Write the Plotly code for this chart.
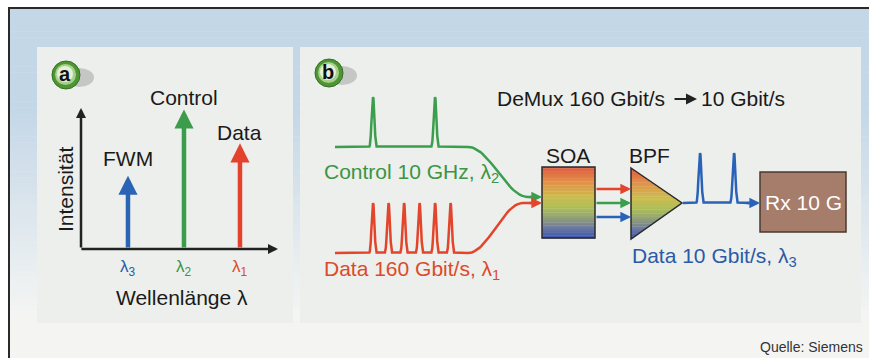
import numpy as np
import plotly.graph_objects as go

# ---------------- data ----------------
# Panel a: spectral lines
line_names = ["FWM", "Control", "Data"]
wavelength_pos = [1, 2, 3]            # position on wavelength axis
wavelength_sub = ["3", "2", "1"]      # λ subscripts
intensities = [0.52, 0.99, 0.75]      # relative intensity
line_colors = ["#2b63b5", "#3b9d4b", "#e3432c"]
label_colors = ["#2a5aa8", "#3d9444", "#dc4a2a"]

# Panel b: pulse trains (time slots of 160 Gbit/s frame)
control_slots = [0, 4]
data_slots = [0, 1, 2, 3, 4, 5]
output_slots = [0, 4]
control_label = "Control 10 GHz, λ<sub>2</sub>"
data_label = "Data 160 Gbit/s, λ<sub>1</sub>"
output_label = "Data 10 Gbit/s, λ<sub>3</sub>"

FONT = "Liberation Sans, Arial, Helvetica, sans-serif"
W, H = 869, 358

fig = go.Figure()
shapes = []
annotations = []


def rgb(c):
    return "rgb(%d,%d,%d)" % tuple(int(round(v)) for v in c)


def lerp(a, b, t):
    return tuple(a[i] + (b[i] - a[i]) * t for i in range(3))


# ---------------- background ----------------
c_top = (196, 215, 231)
c_bot = (244, 245, 243)
N = 60
for i in range(N):
    y0 = 8 + i * (H - 8) / N
    y1 = 8 + (i + 1) * (H - 8) / N
    ym = (y0 + y1) / 2
    if ym < 110:
        t = 0
    elif ym > 315:
        t = 1
    else:
        t = (ym - 110) / (315 - 110)
    shapes.append(dict(type="rect", xref="x", yref="y", x0=8, x1=W, y0=y0, y1=y1 + 0.5,
                       fillcolor=rgb(lerp(c_top, c_bot, t)), line=dict(width=0), layer="below"))

# frame lines
shapes.append(dict(type="line", xref="x", yref="y", x0=8, x1=W, y0=8, y1=8,
                   line=dict(color="#2a2a2a", width=2), layer="below"))
shapes.append(dict(type="line", xref="x", yref="y", x0=9, x1=9, y0=8, y1=H,
                   line=dict(color="#2a2a2a", width=2), layer="below"))

# panels
panel_fill = "rgb(236,239,235)"
for (x0, x1) in [(37, 293), (300, 861)]:
    shapes.append(dict(type="rect", xref="x", yref="y", x0=x0, x1=x1, y0=47, y1=323,
                       fillcolor=panel_fill, line=dict(width=0), layer="below"))


# ---------------- badges ----------------
def badge(cx, cy, letter):
    shapes.append(dict(type="circle", xref="x", yref="y", x0=cx - 2, x1=cx + 28, y0=cy - 7, y1=cy + 12,
                       fillcolor="rgba(150,150,150,0.45)", line=dict(width=0)))
    shapes.append(dict(type="circle", xref="x", yref="y", x0=cx - 14, x1=cx + 14, y0=cy - 14, y1=cy + 14,
                       fillcolor="#4e9534", line=dict(color="#356f22", width=1)))
    shapes.append(dict(type="circle", xref="x", yref="y", x0=cx - 11, x1=cx + 10, y0=cy - 11, y1=cy + 10,
                       fillcolor="#a8d08a", line=dict(width=0)))
    shapes.append(dict(type="circle", xref="x", yref="y", x0=cx - 9, x1=cx + 7, y0=cy - 9, y1=cy + 7,
                       fillcolor="#e4f0d8", line=dict(width=0)))
    annotations.append(dict(xref="x", yref="y", x=cx - 1, y=cy - 1, text="<b>%s</b>" % letter,
                            showarrow=False, font=dict(family=FONT, size=20, color="#111"),
                            xanchor="center", yanchor="middle"))


badge(66, 75, "a")
badge(329, 73, "b")

# ---------------- panel a (own axes) ----------------
ax_x_px0, ax_x_px1 = 81, 278
ax_y_px0, ax_y_px1 = 249, 108
x2_range = [0.161, 3.679]
y2_range = [0, 1.0]

fig.add_trace(go.Scatter(x=wavelength_pos, y=intensities, xaxis="x2", yaxis="y2",
                         mode="markers", marker=dict(opacity=0), hoverinfo="skip", showlegend=False))

# axis arrows
annotations.append(dict(xref="x2", yref="y2", axref="x2", ayref="y2",
                        x=x2_range[0], y=y2_range[1], ax=x2_range[0], ay=0, text="",
                        showarrow=True, arrowhead=2, arrowsize=0.8, arrowwidth=2.5, arrowcolor="#222"))
annotations.append(dict(xref="x2", yref="y2", axref="x2", ayref="y2",
                        x=x2_range[1], y=0, ax=x2_range[0] - 0.02, ay=0, text="",
                        showarrow=True, arrowhead=2, arrowsize=0.8, arrowwidth=2.5, arrowcolor="#222"))

label_shift = [4, -2, -3]
for name, xp, sub, inten, lc, tc, sh in zip(line_names, wavelength_pos, wavelength_sub,
                                              intensities, line_colors, label_colors, label_shift):
    annotations.append(dict(xref="x2", yref="y2", axref="x2", ayref="y2",
                            x=xp, y=inten, ax=xp, ay=0, text="",
                            showarrow=True, arrowhead=2, arrowsize=0.85, arrowwidth=4.5, arrowcolor=lc))
    annotations.append(dict(xref="x2", yref="y2", x=xp, y=inten, yshift=sh, text=name,
                            showarrow=False, xanchor="center", yanchor="bottom",
                            font=dict(family=FONT, size=21, color="#1a1a1a")))
    annotations.append(dict(xref="x2", yref="y2", x=xp, y=0, yshift=-19, text="λ<sub>%s</sub>" % sub,
                            showarrow=False, xanchor="center", yanchor="middle",
                            font=dict(family=FONT, size=17, color=tc)))

annotations.append(dict(xref="x", yref="y", x=182, y=297, text="Wellenlänge λ", showarrow=False,
                        xanchor="center", yanchor="middle", font=dict(family=FONT, size=21, color="#1a1a1a")))
annotations.append(dict(xref="x", yref="y", x=65, y=190, text="Intensität", showarrow=False, textangle=-90,
                        xanchor="center", yanchor="middle", font=dict(family=FONT, size=21, color="#1a1a1a")))


# ---------------- panel b ----------------
def pulse_train(x_start, x_end, base_y, x_first, spacing, slots, height):
    centers = [x_first + s * spacing for s in slots]
    xs = [x_start]
    ys = [base_y]
    dxs = np.linspace(-3.6, 3.6, 17)
    for c in centers:
        for dx in dxs:
            xs.append(c + dx)
            ys.append(base_y - height * np.exp(-(abs(dx) / 1.9) ** 2.4))
    xs.append(x_end)
    ys.append(base_y)
    return xs, ys


def s_curve(x0, x1, y0, y1, n=30):
    t = np.linspace(0, 1, n)
    s = (1 - np.cos(np.pi * t)) / 2
    return list(x0 + (x1 - x0) * t), list(y0 + (y1 - y0) * s)


green = "#3a9e4c"
red = "#e2442c"
blue = "#2a62b8"

# control (green)
gx, gy = pulse_train(335, 468, 147, 373, 15.5, control_slots, 50)
cx, cy = s_curve(468, 528, 147, 197)
fig.add_trace(go.Scatter(x=gx + cx + [532], y=gy + cy + [197], mode="lines",
                         line=dict(color=green, width=2.5), hoverinfo="skip", showlegend=False))
# data (red)
rx, ry = pulse_train(335, 468, 253, 373, 15.5, data_slots, 50)
sx, sy = s_curve(468, 523, 253, 203)
fig.add_trace(go.Scatter(x=rx + sx + [532], y=ry + sy + [203], mode="lines",
                         line=dict(color=red, width=2.5), hoverinfo="skip", showlegend=False))
# output (blue)
bx, by = pulse_train(683, 750, 203, 700, 8.5, output_slots, 50)
fig.add_trace(go.Scatter(x=bx, y=by, mode="lines",
                         line=dict(color=blue, width=2.5), hoverinfo="skip", showlegend=False))


def arrow(x0, x1, y, color, width=2.5, size=0.85):
    annotations.append(dict(xref="x", yref="y", axref="x", ayref="y", x=x1, y=y, ax=x0, ay=y, text="",
                            showarrow=True, arrowhead=2, arrowsize=size, arrowwidth=width, arrowcolor=color))


arrow(528, 542, 197, green)
arrow(528, 542, 203, red)
arrow(595, 631, 189, red)
arrow(595, 631, 203, green)
arrow(595, 631, 217, blue)
arrow(745, 760, 203, blue)

# gradient colours (top -> bottom)
grad_stops = [(0.0, (222, 88, 64)), (0.2, (226, 142, 72)), (0.42, (205, 188, 78)),
              (0.58, (172, 190, 88)), (0.72, (145, 160, 118)), (0.86, (108, 120, 160)),
              (1.0, (56, 86, 176))]


def grad(t):
    for (t0, c0), (t1, c1) in zip(grad_stops[:-1], grad_stops[1:]):
        if t <= t1:
            return lerp(c0, c1, (t - t0) / (t1 - t0))
    return grad_stops[-1][1]


# SOA box
sx0, sx1, sy0, sy1 = 542, 595, 167, 238
NB = 50
for i in range(NB):
    y0 = sy0 + i * (sy1 - sy0) / NB
    y1 = sy0 + (i + 1) * (sy1 - sy0) / NB
    shapes.append(dict(type="rect", xref="x", yref="y", x0=sx0, x1=sx1, y0=y0, y1=y1 + 0.4,
                       fillcolor=rgb(grad((i + 0.5) / NB)), line=dict(width=0)))
shapes.append(dict(type="rect", xref="x", yref="y", x0=sx0, x1=sx1, y0=sy0, y1=sy1,
                   line=dict(color="#2a2a2a", width=1.5)))

# BPF triangle
tx0, ty0, ty1, apx, apy = 631, 168, 239, 682, 203


def tri_right(y):
    if y <= apy:
        return tx0 + (apx - tx0) * (y - ty0) / (apy - ty0)
    return apx - (apx - tx0) * (y - apy) / (ty1 - apy)


for i in range(NB):
    y0 = ty0 + i * (ty1 - ty0) / NB
    y1 = ty0 + (i + 1) * (ty1 - ty0) / NB + 0.4
    y1 = min(y1, ty1)
    pts = [(tx0, y0), (tri_right(y0), y0)]
    if y0 < apy < y1:
        pts.append((apx, apy))
    pts += [(tri_right(y1), y1), (tx0, y1)]
    path = "M " + " L ".join("%.2f,%.2f" % p for p in pts) + " Z"
    shapes.append(dict(type="path", xref="x", yref="y", path=path,
                       fillcolor=rgb(grad((i + 0.5) / NB)), line=dict(width=0)))
shapes.append(dict(type="path", xref="x", yref="y",
                   path="M %d,%d L %d,%d L %d,%d Z" % (tx0, ty0, apx, apy, tx0, ty1),
                   line=dict(color="#2a2a2a", width=1.5)))

# Rx box
shapes.append(dict(type="rect", xref="x", yref="y", x0=760, x1=846, y0=172, y1=232,
                   fillcolor="#a67c6a", line=dict(color="#4a3a32", width=1.5)))
annotations.append(dict(xref="x", yref="y", x=803, y=202, text="Rx 10 G", showarrow=False,
                        xanchor="center", yanchor="middle", font=dict(family=FONT, size=21, color="white")))

# text labels panel b
txt = dict(family=FONT, size=21, color="#1a1a1a")
annotations.append(dict(xref="x", yref="y", x=568, y=155, text="SOA", showarrow=False,
                        xanchor="center", yanchor="middle", font=txt))
annotations.append(dict(xref="x", yref="y", x=649, y=155, text="BPF", showarrow=False,
                        xanchor="center", yanchor="middle", font=txt))
annotations.append(dict(xref="x", yref="y", x=667, y=98, text="DeMux 160 Gbit/s", showarrow=False,
                        xanchor="right", yanchor="middle", font=txt))
annotations.append(dict(xref="x", yref="y", x=699, y=98, text="10 Gbit/s", showarrow=False,
                        xanchor="left", yanchor="middle", font=txt))
annotations.append(dict(xref="x", yref="y", axref="x", ayref="y", x=697, y=99, ax=673, ay=99, text="",
                        showarrow=True, arrowhead=2, arrowsize=1.0, arrowwidth=2.2, arrowcolor="#222"))

annotations.append(dict(xref="x", yref="y", x=322, y=173, text=control_label, showarrow=False,
                        xanchor="left", yanchor="middle", font=dict(family=FONT, size=21, color="#3d9444")))
annotations.append(dict(xref="x", yref="y", x=322, y=270, text=data_label, showarrow=False,
                        xanchor="left", yanchor="middle", font=dict(family=FONT, size=21, color="#dc4a2a")))
annotations.append(dict(xref="x", yref="y", x=630, y=257, text=output_label, showarrow=False,
                        xanchor="left", yanchor="middle", font=dict(family=FONT, size=21, color="#2a5aa8")))

annotations.append(dict(xref="x", yref="y", x=865, y=347, text="Quelle: Siemens", showarrow=False,
                        xanchor="right", yanchor="middle", font=dict(family=FONT, size=14, color="#333")))

# ---------------- layout ----------------
fig.update_layout(
    width=W, height=H,
    margin=dict(l=0, r=0, t=0, b=0),
    paper_bgcolor="white",
    plot_bgcolor="rgba(0,0,0,0)",
    showlegend=False,
    shapes=shapes,
    annotations=annotations,
    xaxis=dict(range=[0, W], domain=[0, 1], visible=False, fixedrange=True),
    yaxis=dict(range=[H, 0], domain=[0, 1], visible=False, fixedrange=True),
    xaxis2=dict(range=x2_range, domain=[ax_x_px0 / W, ax_x_px1 / W], anchor="y2",
                visible=False, fixedrange=True),
    yaxis2=dict(range=y2_range, domain=[(H - ax_y_px0) / H, (H - ax_y_px1) / H], anchor="x2",
                visible=False, fixedrange=True),
)

fig.write_html(
    "out.html",
    config={"displayModeBar": False, "staticPlot": True},
    post_script="document.body.style.margin='0px';document.body.style.overflow='hidden';",
)
